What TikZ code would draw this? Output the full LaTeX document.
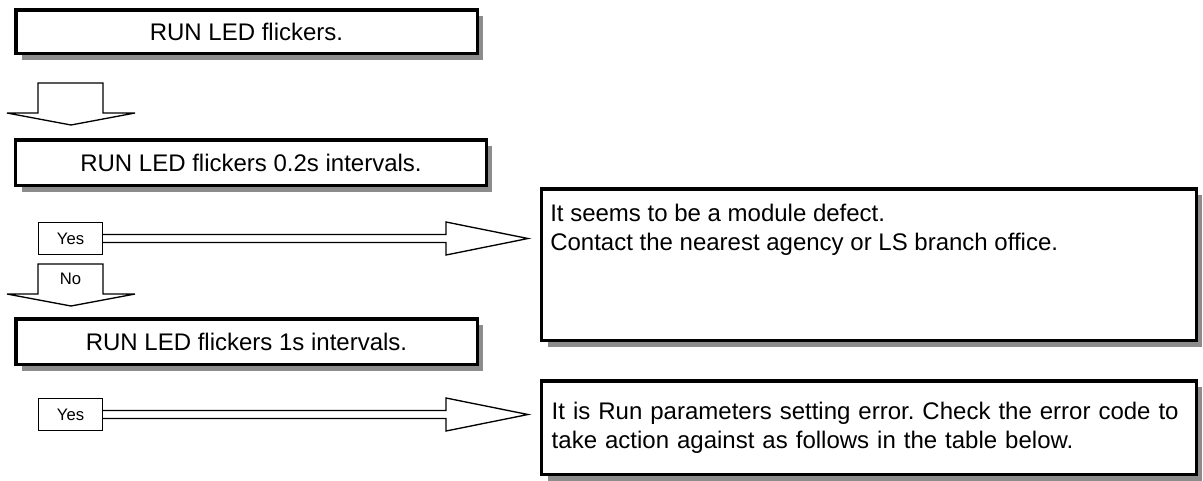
\documentclass[tikz,border=0pt]{standalone}
\usepackage{fontspec}
\setmainfont{Liberation Sans}
\usetikzlibrary{calc,shadows,positioning}
\frenchspacing

\begin{document}
\begin{tikzpicture}[x=0.75pt,y=-0.75pt,
  stepbox/.style={draw,line width=2.6pt,fill=white,inner sep=0pt,
    font=\fontsize{18pt}{21.5pt}\selectfont,
    drop shadow={shadow xshift=4.5pt,shadow yshift=-5pt,fill=black!45,opacity=1}},
  notebox/.style={stepbox,minimum width=490.9pt,align=left,text width=475.9pt,inner xsep=7.5pt},
  answer/.style={draw,line width=1pt,fill=white,inner sep=0pt,minimum width=48pt,minimum height=24pt,
    font=\fontsize{12.5pt}{14pt}\selectfont},
  fatline/.style={line width=1pt,line join=miter}]
  \useasboundingbox (0,0) rectangle (1203,480);

  % checks on the left
  \node[stepbox,minimum width=346.1pt,minimum height=32.6pt] (flick) at (246.5,31.5) {RUN LED flickers.};
  \node[stepbox,minimum width=352.9pt,minimum height=34.1pt] (fast) at (251,162.5) {RUN LED flickers 0.2s intervals.};
  \node[stepbox,minimum width=346.1pt,minimum height=34.1pt] (slow) at (246.5,341.5) {RUN LED flickers 1s intervals.};

  % results on the right
  \node[notebox,minimum height=113.6pt] (defect) at (869,264.5) {};
  \node[anchor=north west,inner sep=0pt,align=left,font=\fontsize{18pt}{21.5pt}\selectfont]
    (defecttxt) at ($(defect.north west)+(10,17)$)
    {It seems to be a module defect.\\Contact the nearest agency or LS branch office.};
  \node[notebox,minimum height=70.1pt] (paramerr) at (869,427.5)
    {It is Run parameters setting error. Check the error code to\\take action against as follows in the table below.};

  % down arrow
  \draw[fatline] (38,83) -- (103,83) -- (103,113) -- (135,113) -- (71,125)
    -- (7,113) -- (38,113) -- cycle;

  % yes / no for 0.2s
  \node[answer] (yesfast) at (70.5,238.5) {Yes};
  \coordinate (tipfast) at (528,238.5);
  \draw[fatline] ($(yesfast.east)+(0,-4)$) -- ($(tipfast)+(-82,-4)$) -- ($(tipfast)+(-82,-16.5)$)
    -- (tipfast) -- ($(tipfast)+(-82,16.5)$) -- ($(tipfast)+(-82,4)$) -- ($(yesfast.east)+(0,4)$);
  \draw[fatline] (38,264) -- (103,264) -- (103,294) -- (135,294) -- (71,306)
    -- (7,294) -- (38,294) -- cycle;
  \node[inner sep=0pt,font=\fontsize{12.5pt}{14pt}\selectfont] (nofast) at (70.5,279) {No};

  % yes for 1s
  \node[answer] (yesslow) at (70.5,414.5) {Yes};
  \coordinate (tipslow) at (528,414.5);
  \draw[fatline] ($(yesslow.east)+(0,-4)$) -- ($(tipslow)+(-82,-4)$) -- ($(tipslow)+(-82,-16.5)$)
    -- (tipslow) -- ($(tipslow)+(-82,16.5)$) -- ($(tipslow)+(-82,4)$) -- ($(yesslow.east)+(0,4)$);
\end{tikzpicture}
\end{document}
